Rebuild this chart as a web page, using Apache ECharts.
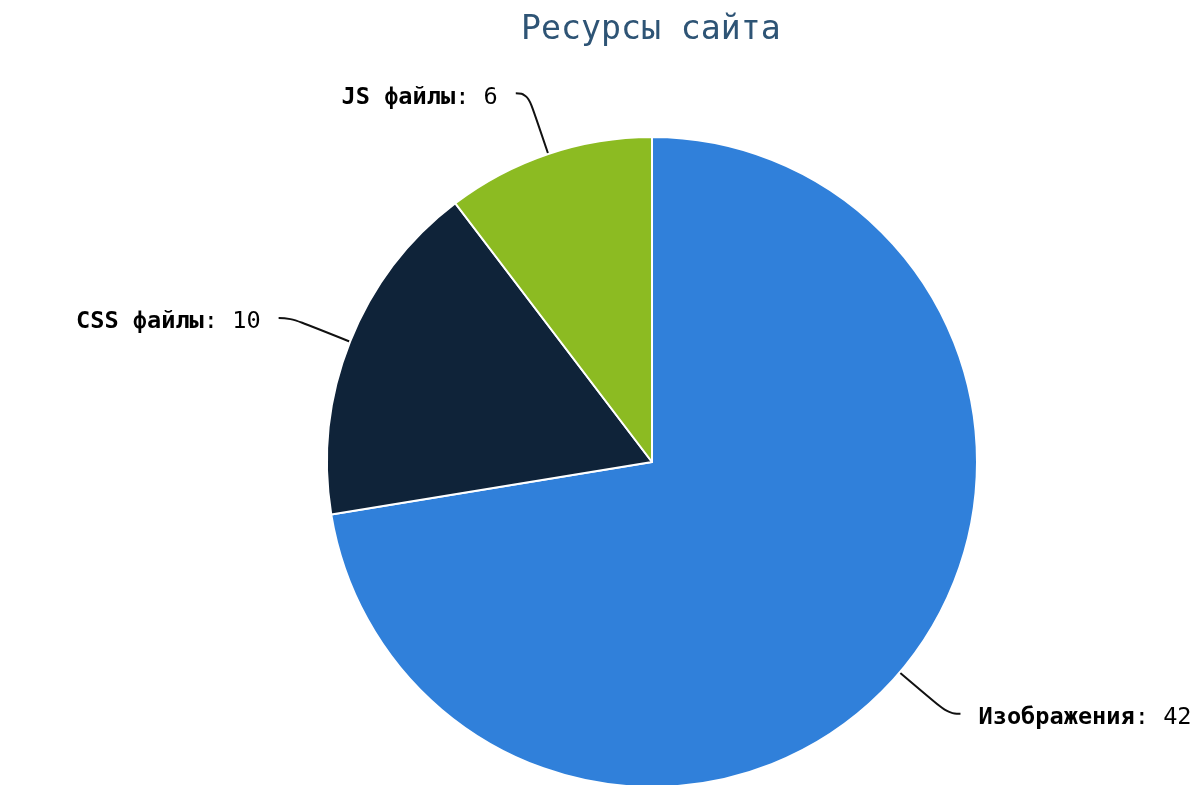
<!DOCTYPE html>
<html><head><meta charset="utf-8">
<script src="https://cdn.jsdelivr.net/npm/echarts@6/dist/echarts.min.js"></script>
<style>html,body{margin:0;padding:0;background:#fff}#c{width:1195px;height:785px}</style>
</head><body><div id="c"></div>
<script>
const titleText = 'Ресурсы сайта';
const categories = ['Изображения', 'CSS файлы', 'JS файлы'];
const values = [42, 10, 6];
const colors = ['#3080da', '#0f2339', '#8cbb22'];

const chart = echarts.init(document.getElementById('c'));
chart.setOption({
  animation: false,
  title: {
    text: titleText, left: 516, top: 9,
    textStyle: { fontFamily: 'DejaVu Sans Mono', fontSize: 33.2, fontWeight: 'normal', color: '#2e5475' }
  },
  series: [{
    type: 'pie',
    center: [652, 462],
    radius: 325,
    startAngle: 90,
    clockwise: true,
    data: categories.map((n, i) => ({ name: n, value: values[i], itemStyle: { color: colors[i] } })),
    itemStyle: { borderColor: '#fff', borderWidth: 2 },
    label: {
      formatter: '{b|{b}}{s|:} {c|{c}}',
      fontFamily: 'DejaVu Sans Mono', fontSize: 23.6, fontWeight: 'normal', color: '#000',
      distanceToLabelLine: 18,
      overflow: 'none',
      padding: [8, 0, 0, 0],
      rich: {
        b: { fontFamily: 'DejaVu Sans Mono', fontSize: 23.6, fontWeight: 'bold', color: '#000' },
        s: { fontFamily: 'DejaVu Sans Mono', fontSize: 23.6, fontWeight: 'normal', color: '#000' },
        c: { fontFamily: 'DejaVu Sans Mono', fontSize: 23.6, fontWeight: 'normal', color: '#000' }
      }
    },
    labelLine: { length: 64, length2: 12, smooth: 0.5, lineStyle: { color: '#111', width: 2 } }
  }]
});
</script></body></html>
